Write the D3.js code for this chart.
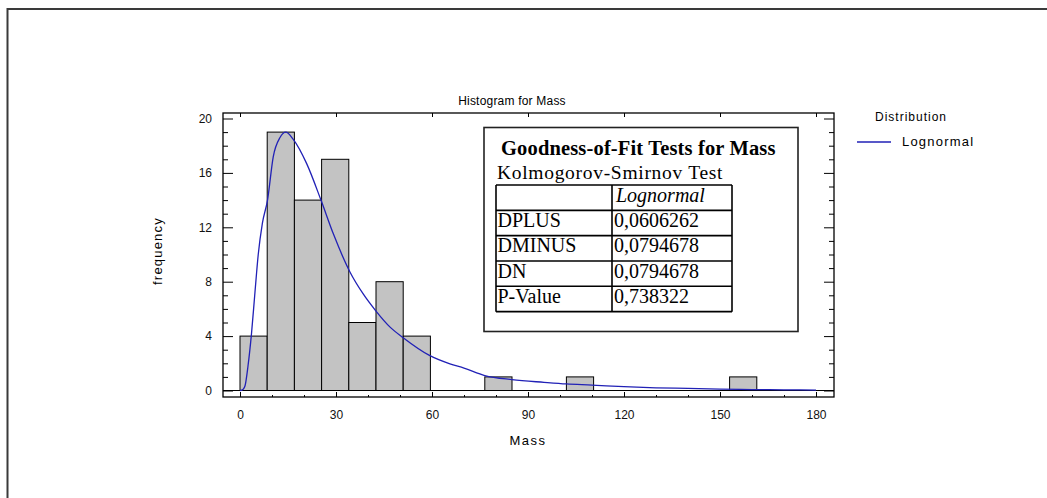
<!DOCTYPE html>
<html>
<head>
<meta charset="utf-8">
<script src="https://cdn.jsdelivr.net/npm/d3@7"></script>
<style>
	body { margin: 0; background: #fff; }
	svg text { font-family: "Liberation Sans", Arial, sans-serif; }
	.axis text { font-size: 12px; fill: #111; }
	.axis line { stroke: #000; }
	.tbl text { font-family: "Liberation Serif", "Times New Roman", serif; fill: #000; }
</style>
</head>
<body>
<div id="chart"></div>
<script>
// histogram classes (lower limit 0, width 8.5)
var binStarts = [0, 8.5, 17, 25.5, 34, 42.5, 51, 59.5, 68, 76.5, 85, 93.5, 102, 110.5, 119, 127.5, 136, 144.5, 153, 161.5];
var binWidth = 8.5;
var counts = [4, 19, 14, 17, 5, 8, 4, 0, 0, 1, 0, 0, 1, 0, 0, 0, 0, 0, 1, 0];

// fitted lognormal curve
var curveX = [0, 1, 1.6, 2.5, 3.6, 4.6, 5.7, 7, 8.6, 10.4, 12.5, 14.3, 16.7, 20.8, 25.3, 29.2, 34.4, 38.5, 42.5, 46.9, 51, 59.2, 65.6, 70, 76.5, 85, 95, 102, 110, 120, 130, 140, 150, 160, 170, 180];
var curveY = [0, 0.1, 0.37, 1.8, 4.2, 7, 10, 12.3, 14, 17.2, 18.6, 19.0, 18.45, 16.7, 14, 11.5, 8.7, 7.1, 5.84, 4.66, 3.88, 2.58, 1.96, 1.65, 1.1, 0.8, 0.6, 0.48, 0.4, 0.28, 0.2, 0.15, 0.1, 0.07, 0.05, 0.03];

// axis ticks
var xTicks = [0, 30, 60, 90, 120, 150, 180];
var xMinorTicks = [10, 20, 40, 50, 70, 80, 100, 110, 130, 140, 160, 170];
var yTicks = [0, 4, 8, 12, 16, 20];
var yMinorTicks = [1, 2, 3, 5, 6, 7, 9, 10, 11, 13, 14, 15, 17, 18, 19];

// goodness-of-fit table
var tableTitle = "Goodness-of-Fit Tests for Mass";
var tableSubtitle = "Kolmogorov-Smirnov  Test";
var tableHeader = "Lognormal";
var statNames = ["DPLUS", "DMINUS", "DN", "P-Value"];
var statValues = ["0,0606262", "0,0794678", "0,0794678", "0,738322"];

var width = 1047, height = 498;
var plot = {left: 223, right: 834, top: 113, bottom: 397};
var blue = "#2121b6";

var svg = d3.select("#chart").append("svg").attr("width", width).attr("height", height);

// window frame
svg.append("path")
	.attr("d", "M7.5," + height + "V9H" + width)
	.style("fill", "none")
	.style("stroke", "#3a3a3a")
	.style("stroke-width", 2);

var x = d3.scaleLinear().domain([0, 180]).range([240, 816]);
var y = d3.scaleLinear().domain([0, 20]).range([390.5, 118.5]);

// title
svg.append("text")
	.attr("x", 512)
	.attr("y", 105)
	.attr("text-anchor", "middle")
	.style("font-size", "12px")
	.style("letter-spacing", "0.2px")
	.text("Histogram for Mass");

// bars
var bins = binStarts.map(function(s, i) { return {start: s, count: counts[i]}; })
	.filter(function(b) { return b.count > 0; });
svg.append("g")
	.selectAll("rect")
	.data(bins)
	.enter()
	.append("rect")
	.attr("x", function(d) { return x(d.start); })
	.attr("y", function(d) { return y(d.count); })
	.attr("width", x(binWidth) - x(0))
	.attr("height", function(d) { return y(0) - y(d.count); })
	.style("fill", "#c3c3c3")
	.style("stroke", "#000")
	.style("stroke-width", 1);

// zero line
svg.append("line")
	.attr("x1", plot.left).attr("x2", plot.right)
	.attr("y1", y(0)).attr("y2", y(0))
	.style("stroke", "#000");

// lognormal curve
var pts = curveX.map(function(v, i) { return [v, curveY[i]]; });
svg.append("path")
	.datum(pts)
	.attr("d", d3.line().x(function(d) { return x(d[0]); }).y(function(d) { return y(d[1]); }).curve(d3.curveMonotoneX))
	.style("fill", "none")
	.style("stroke", blue)
	.style("stroke-width", 1.3);

// axes, ticks pointing inward
function noDomain(g) { g.select(".domain").remove(); }

svg.append("g").attr("class", "axis")
	.attr("transform", "translate(0," + plot.bottom + ")")
	.call(d3.axisBottom(x).tickValues(xTicks).tickSize(-5).tickPadding(13))
	.call(noDomain);
svg.append("g").attr("class", "axis")
	.attr("transform", "translate(0," + plot.bottom + ")")
	.call(d3.axisBottom(x).tickValues(xMinorTicks).tickSize(-2).tickFormat(""))
	.call(noDomain);
svg.append("g").attr("class", "axis")
	.attr("transform", "translate(0," + plot.top + ")")
	.call(d3.axisTop(x).tickValues(xTicks).tickSize(-4).tickFormat(""))
	.call(noDomain);
svg.append("g").attr("class", "axis")
	.attr("transform", "translate(" + plot.left + ",0)")
	.call(d3.axisLeft(y).tickValues(yTicks).tickSize(-10).tickPadding(11))
	.call(noDomain);
svg.append("g").attr("class", "axis")
	.attr("transform", "translate(" + plot.left + ",0)")
	.call(d3.axisLeft(y).tickValues(yMinorTicks).tickSize(-5).tickFormat(""))
	.call(noDomain);
svg.append("g").attr("class", "axis")
	.attr("transform", "translate(" + plot.right + ",0)")
	.call(d3.axisRight(y).tickValues(yTicks).tickSize(-10).tickFormat(""))
	.call(noDomain);
svg.append("g").attr("class", "axis")
	.attr("transform", "translate(" + plot.right + ",0)")
	.call(d3.axisRight(y).tickValues(yMinorTicks).tickSize(-5).tickFormat(""))
	.call(noDomain);

// plot frame
svg.append("rect")
	.attr("x", plot.left).attr("y", plot.top)
	.attr("width", plot.right - plot.left).attr("height", plot.bottom - plot.top)
	.style("fill", "none")
	.style("stroke", "#000")
	.style("stroke-width", 1.3);

// axis titles
svg.append("text")
	.attr("x", 528)
	.attr("y", 445)
	.attr("text-anchor", "middle")
	.style("font-size", "13px")
	.style("letter-spacing", "1.5px")
	.text("Mass");

svg.append("text")
	.attr("transform", "translate(162,251) rotate(-90)")
	.attr("text-anchor", "middle")
	.style("font-size", "13px")
	.style("letter-spacing", "1.2px")
	.text("frequency");

// legend
svg.append("text")
	.attr("x", 875).attr("y", 121)
	.style("font-size", "12px")
	.style("letter-spacing", "1px")
	.text("Distribution");
svg.append("line")
	.attr("x1", 857).attr("x2", 891)
	.attr("y1", 142).attr("y2", 142)
	.style("stroke", blue)
	.style("stroke-width", 1.5);
svg.append("text")
	.attr("x", 902).attr("y", 146)
	.style("font-size", "13px")
	.style("letter-spacing", "1.2px")
	.text("Lognormal");

// goodness-of-fit table
var tbl = svg.append("g").attr("class", "tbl");
tbl.append("rect")
	.attr("x", 484).attr("y", 127.5)
	.attr("width", 314).attr("height", 204)
	.style("fill", "#fff")
	.style("stroke", "#222")
	.style("stroke-width", 1.6);
tbl.append("text")
	.attr("x", 501).attr("y", 155)
	.style("font-size", "20.5px")
	.style("font-weight", "bold")
	.style("letter-spacing", "0.15px")
	.text(tableTitle);
tbl.append("text")
	.attr("x", 497).attr("y", 179)
	.style("font-size", "19.5px")
	.style("letter-spacing", "0.7px")
	.text(tableSubtitle);

var rowH = 25.33, tLeft = 496, tMid = 612, tRight = 732, tTop = 185;
var nRows = statNames.length + 1;
for (var i = 0; i <= nRows; i++) {
	tbl.append("line")
		.attr("x1", tLeft).attr("x2", tRight)
		.attr("y1", tTop + i * rowH).attr("y2", tTop + i * rowH)
		.style("stroke", "#000").style("stroke-width", 1.6);
}
[tLeft, tMid, tRight].forEach(function(xx) {
	tbl.append("line")
		.attr("x1", xx).attr("x2", xx)
		.attr("y1", tTop).attr("y2", tTop + nRows * rowH)
		.style("stroke", "#000").style("stroke-width", 1.6);
});
tbl.append("text")
	.attr("x", tMid + 4).attr("y", tTop + rowH - 8.5)
	.style("font-size", "20px")
	.style("font-style", "italic")
	.text(tableHeader);
for (var i = 0; i < statNames.length; i++) {
	tbl.append("text")
		.attr("x", tLeft + 1.5).attr("y", tTop + (i + 2) * rowH - 8.5)
		.style("font-size", "20px")
		.text(statNames[i]);
	tbl.append("text")
		.attr("x", tMid + 2).attr("y", tTop + (i + 2) * rowH - 8.5)
		.style("font-size", "20px")
		.text(statValues[i]);
}
</script>
</body>
</html>
